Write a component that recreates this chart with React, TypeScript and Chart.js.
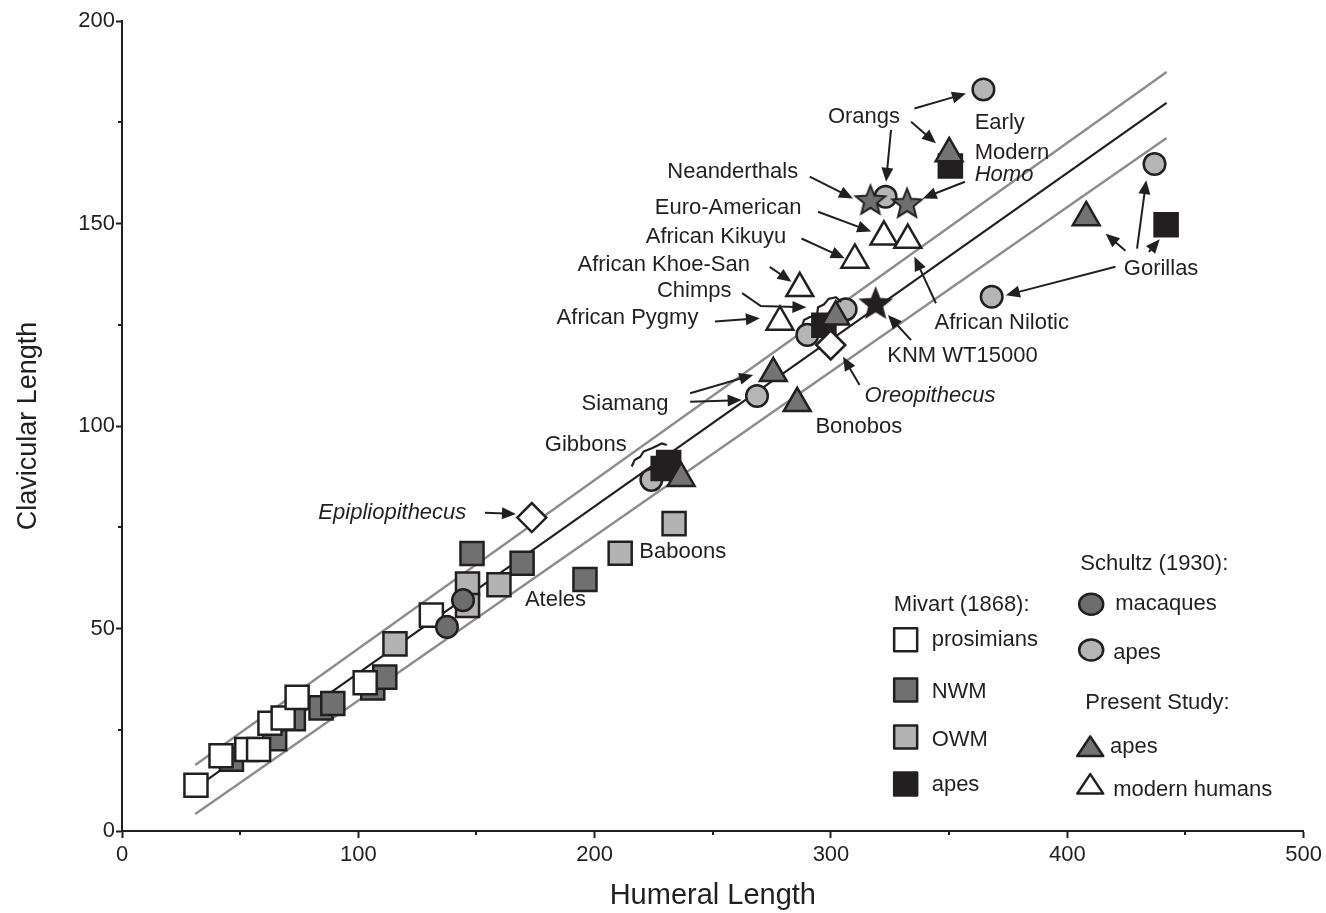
import React, { useEffect, useRef } from 'react';
import { Chart, registerables } from 'chart.js';

Chart.register(...registerables);

const INK = '#231f20';
const FONT = '"Liberation Sans", Arial, sans-serif';

// ---- Mivart (1868) ----
const prosimians = [[31.3, 11.3], [41.9, 18.6], [52.8, 20.1], [57.8, 20.1], [62.6, 26.6], [68.2, 27.9], [74.1, 33.0], [102.9, 36.6], [130.9, 53.3]];
const nwm = [[46.3, 17.7], [64.6, 22.8], [72.5, 27.7], [84.2, 30.4], [89.2, 31.5], [106.1, 35.3], [111.2, 38.0], [148.1, 68.5], [169.3, 66.1], [195.9, 62.1]];
const owm = [[115.5, 46.2], [146.2, 61.0], [146.2, 55.7], [159.5, 60.8], [210.8, 68.6], [233.6, 75.9]];
const mivartApes = [[229.0, 89.5], [231.3, 91.0], [297.0, 124.9], [350.5, 164.2], [441.8, 149.7]];
// ---- Schultz (1930) ----
const macaques = [[137.5, 50.4], [144.3, 57.0]];
const schultzApes = [[224.0, 86.7], [268.7, 107.4], [290.0, 122.5], [306.2, 128.8], [323.1, 156.6], [364.5, 183.1], [436.9, 164.7], [368.0, 131.9]];
// ---- Present study ----
const presentApes = [[236.6, 87.1], [275.6, 113.0], [285.7, 105.6], [302.0, 127.0], [350.0, 167.3], [408.0, 151.5]];
const modernHumans = [[278.4, 125.7], [286.8, 134.0], [310.1, 141.0], [322.4, 146.7], [332.5, 145.9]];
// ---- Fossils ----
const homoStars = [[316.7, 155.8], [332.2, 155.0]];
const knmStar = [[318.9, 130.3]];
const fossilDiamonds = [[173.4, 77.4], [299.9, 120.0]];
// ---- Regression line and bounds ----
const fitLine = [[31, 10.6], [442, 179.8]];
const upperLine = [[31, 16.3], [442, 187.4]];
const lowerLine = [[31, 4.2], [442, 171.1]];

const xTicksMinor = [50, 150, 250, 350, 450];
const yTicksMinor = [25, 75, 125, 175];

const annotationLabels = [
  { text: 'Orangs', x: 298.7, y: 176.4, align: 'left' },
  { text: 'Early', x: 360.8, y: 174.8, align: 'left' },
  { text: 'Modern', x: 360.8, y: 167.4, align: 'left' },
  { text: 'Homo', x: 360.8, y: 162.0, align: 'left', italic: true },
  { text: 'Neanderthals', x: 286.1, y: 162.8, align: 'right' },
  { text: 'Euro-American', x: 287.5, y: 153.8, align: 'right' },
  { text: 'African Kikuyu', x: 281.1, y: 146.6, align: 'right' },
  { text: 'African Khoe-San', x: 265.7, y: 139.8, align: 'right' },
  { text: 'Chimps', x: 257.9, y: 133.4, align: 'right' },
  { text: 'African Pygmy', x: 243.9, y: 126.6, align: 'right' },
  { text: 'African Nilotic', x: 343.8, y: 125.4, align: 'left' },
  { text: 'KNM WT15000', x: 323.8, y: 117.4, align: 'left' },
  { text: 'Oreopithecus', x: 314.2, y: 107.4, align: 'left', italic: true },
  { text: 'Siamang', x: 231.2, y: 105.4, align: 'right' },
  { text: 'Bonobos', x: 293.4, y: 99.8, align: 'left' },
  { text: 'Gibbons', x: 213.6, y: 95.3, align: 'right' },
  { text: 'Epipliopithecus', x: 145.7, y: 78.6, align: 'right', italic: true },
  { text: 'Baboons', x: 218.9, y: 69.0, align: 'left' },
  { text: 'Ateles', x: 170.5, y: 57.0, align: 'left' },
  { text: 'Gorillas', x: 423.9, y: 138.9, align: 'left' },
];

const annotationArrows = [
  [[335.3, 178.4], [357.1, 182.1]],
  [[325.4, 173.1], [323.3, 160.3]],
  [[333.9, 175.1], [344.4, 169.8]],
  [[291.0, 161.6], [309.3, 156.2]],
  [[356.7, 160.3], [338.8, 156.2]],
  [[294.5, 152.9], [317.0, 148.0]],
  [[287.5, 146.3], [305.8, 141.4]],
  [[274.1, 139.3], [283.3, 135.6]],
  [[262.4, 132.8], [270.3, 129.6], [289.6, 129.3]],
  [[250.9, 125.8], [269.9, 126.6]],
  [[344.4, 130.3], [335.3, 141.8]],
  [[333.9, 121.2], [324.1, 127.4]],
  [[312.1, 110.1], [305.1, 117.1]],
  [[240.4, 108.1], [267.1, 112.6]],
  [[240.4, 106.0], [262.2, 106.4]],
  [[153.6, 78.6], [166.7, 78.3]],
  [[424.6, 143.3], [416.2, 147.5]],
  [[429.5, 143.8], [433.4, 160.7]],
  [[434.5, 143.0], [439.1, 146.1]],
  [[420.4, 139.3], [374.0, 132.3]],
];

const annotationBraces = [
  [[287.8, 124.6], [288.6, 126.2], [291.1, 126.9], [294.1, 127.4], [294.5, 129.3], [297.0, 130.0], [299.0, 131.4], [302.1, 131.8], [304.3, 130.6]],
  [[215.7, 90.0], [216.9, 91.6], [219.3, 92.4], [220.7, 93.7], [224.2, 94.5], [228.4, 95.7], [230.5, 95.3]],
];

const legendHeaders = [
  { text: 'Mivart (1868):', x: 326.6, y: 55.8 },
  { text: 'Schultz (1930):', x: 405.5, y: 65.9 },
  { text: 'Present Study:', x: 407.6, y: 31.6 },
];
const legendItems = [
  { shape: 'square', fill: '#ffffff', mx: 331.6, my: 47.2, text: 'prosimians', tx: 342.6, ty: 47.2 },
  { shape: 'square', fill: '#707070', mx: 331.6, my: 34.8, text: 'NWM', tx: 342.6, ty: 34.4 },
  { shape: 'square', fill: '#b3b3b3', mx: 331.6, my: 23.2, text: 'OWM', tx: 342.6, ty: 22.5 },
  { shape: 'square', fill: INK, mx: 331.6, my: 11.6, text: 'apes', tx: 342.6, ty: 11.4 },
  { shape: 'circle', fill: '#6d6d6d', mx: 410.1, my: 56.0, text: 'macaques', tx: 420.3, ty: 56.0 },
  { shape: 'circle', fill: '#b5b5b5', mx: 410.1, my: 44.7, text: 'apes', tx: 419.4, ty: 43.9 },
  { shape: 'triangle', fill: '#737373', mx: 409.7, my: 20.2, text: 'apes', tx: 418.1, ty: 20.7 },
  { shape: 'triangle', fill: '#ffffff', mx: 409.7, my: 10.9, text: 'modern humans', tx: 419.4, ty: 10.1 },
];

const pts = (arr: number[][]) => arr.map(([x, y]) => ({ x, y }));

function makeStar(fill: string) {
  const c = document.createElement('canvas');
  c.width = 36;
  c.height = 36;
  const g = c.getContext('2d')!;
  const cx = 18, cy = 19, R = 15.5, r = 6.8;
  g.beginPath();
  for (let i = 0; i < 10; i++) {
    const a = -Math.PI / 2 + (i * Math.PI) / 5;
    const rr = i % 2 ? r : R;
    const X = cx + rr * Math.cos(a), Y = cy + rr * Math.sin(a);
    if (i) g.lineTo(X, Y); else g.moveTo(X, Y);
  }
  g.closePath();
  g.fillStyle = fill;
  g.fill();
  g.lineWidth = 2;
  g.lineJoin = 'miter';
  g.strokeStyle = INK;
  g.stroke();
  return c;
}

function drawShape(ctx: CanvasRenderingContext2D, shape: string, x: number, y: number, fill: string) {
  ctx.beginPath();
  if (shape === 'square') {
    ctx.rect(x - 11.5, y - 11.5, 23, 23);
  } else if (shape === 'circle') {
    ctx.ellipse(x, y, 12, 10.5, 0, 0, Math.PI * 2);
  } else {
    const r = 15;
    ctx.moveTo(x, y - r * 0.85);
    ctx.lineTo(x + r * Math.sin((2 * Math.PI) / 3), y + r * 0.45);
    ctx.lineTo(x - r * Math.sin((2 * Math.PI) / 3), y + r * 0.45);
    ctx.closePath();
  }
  ctx.fillStyle = fill;
  ctx.fill();
  ctx.lineWidth = 2.5;
  ctx.strokeStyle = INK;
  ctx.stroke();
}

const annotationPlugin = {
  id: 'annotations',
  afterDraw(chart: any) {
    const { ctx, scales, chartArea } = chart;
    const xs = scales.x, ys = scales.y;
    const px = (v: number) => xs.getPixelForValue(v);
    const py = (v: number) => ys.getPixelForValue(v);
    ctx.save();
    // minor ticks
    ctx.strokeStyle = INK;
    ctx.lineWidth = 2;
    ctx.beginPath();
    for (const v of yTicksMinor) {
      const Y = Math.round(py(v));
      ctx.moveTo(chartArea.left - 4, Y);
      ctx.lineTo(chartArea.left, Y);
    }
    for (const v of xTicksMinor) {
      const X = Math.round(px(v));
      ctx.moveTo(X, chartArea.bottom);
      ctx.lineTo(X, chartArea.bottom + 4);
    }
    ctx.stroke();

    // arrows
    ctx.strokeStyle = INK;
    ctx.fillStyle = INK;
    ctx.lineWidth = 2;
    for (const a of annotationArrows) {
      const P = a.map(([vx, vy]) => [px(vx), py(vy)]);
      const [x1, y1] = P[P.length - 2];
      const [x2, y2] = P[P.length - 1];
      const ang = Math.atan2(y2 - y1, x2 - x1);
      const L = 14, W = 6;
      const cos = Math.cos(ang), sin = Math.sin(ang);
      ctx.beginPath();
      P.forEach(([X, Y], i) => {
        if (i === P.length - 1) ctx.lineTo(X - cos * L * 0.8, Y - sin * L * 0.8);
        else if (i === 0) ctx.moveTo(X, Y);
        else ctx.lineTo(X, Y);
      });
      ctx.stroke();
      ctx.beginPath();
      ctx.moveTo(x2, y2);
      ctx.lineTo(x2 - L * cos + W * sin, y2 - L * sin - W * cos);
      ctx.lineTo(x2 - L * cos - W * sin, y2 - L * sin + W * cos);
      ctx.closePath();
      ctx.fill();
    }
    // braces
    ctx.lineWidth = 2.2;
    ctx.lineJoin = 'round';
    for (const b of annotationBraces) {
      ctx.beginPath();
      b.forEach(([vx, vy], i) => (i ? ctx.lineTo(px(vx), py(vy)) : ctx.moveTo(px(vx), py(vy))));
      ctx.stroke();
    }

    // labels
    ctx.fillStyle = INK;
    ctx.textBaseline = 'middle';
    for (const l of annotationLabels) {
      ctx.font = `${l.italic ? 'italic ' : ''}22px ${FONT}`;
      ctx.textAlign = l.align as CanvasTextAlign;
      ctx.fillText(l.text, px(l.x), py(l.y));
    }

    // legend
    ctx.textAlign = 'left';
    ctx.font = `22px ${FONT}`;
    for (const h of legendHeaders) {
      ctx.fillStyle = INK;
      ctx.fillText(h.text, px(h.x), py(h.y));
    }
    for (const it of legendItems) {
      drawShape(ctx, it.shape, px(it.mx), py(it.my), it.fill);
      ctx.fillStyle = INK;
      ctx.fillText(it.text, px(it.tx), py(it.ty));
    }
    ctx.restore();
  },
};

export default function App() {
  const ref = useRef<HTMLCanvasElement>(null);
  useEffect(() => {
    if (!ref.current) return;
    Chart.defaults.font.family = FONT;
    Chart.defaults.color = INK;
    const starGray = makeStar('#6f6f6f');
    const starBlack = makeStar(INK);
    const marker = (label: string, data: number[][], style: any, radius: number, fill: string) => ({
      label,
      data: pts(data),
      pointStyle: style,
      pointRadius: radius,
      pointHoverRadius: radius,
      pointBackgroundColor: fill,
      pointBorderColor: INK,
      pointBorderWidth: 2.5,
      pointHoverBorderWidth: 2.5,
      backgroundColor: fill,
      borderColor: INK,
      showLine: false,
    });
    const line = (label: string, data: number[][], color: string, width: number) => ({
      label,
      data: pts(data),
      showLine: true,
      pointRadius: 0,
      pointHoverRadius: 0,
      borderColor: color,
      borderWidth: width,
      fill: false,
    });
    const chart = new Chart(ref.current, {
      type: 'scatter',
      data: {
        datasets: [
          marker('Fossil hominoids', fossilDiamonds, 'rectRot', 14.5, '#ffffff'),
          marker('KNM WT15000', knmStar, starBlack, 14, INK),
          marker('Neanderthals / Early Modern Homo', homoStars, starGray, 14, '#6f6f6f'),
          marker('Present Study: modern humans', modernHumans, 'triangle', 15.5, '#ffffff'),
          marker('Present Study: apes', presentApes, 'triangle', 15.5, '#737373'),
          marker('Mivart: apes', mivartApes, 'rect', 16.3, INK),
          marker('Schultz: apes', schultzApes, 'circle', 10.8, '#b5b5b5'),
          marker('Schultz: macaques', macaques, 'circle', 10.8, '#6d6d6d'),
          marker('Mivart: prosimians', prosimians, 'rect', 16.3, '#ffffff'),
          marker('Mivart: OWM', owm, 'rect', 16.3, '#b3b3b3'),
          marker('Mivart: NWM', nwm, 'rect', 16.3, '#707070'),
          line('Fit', fitLine, INK, 2.2),
          line('Upper', upperLine, '#8d8d8d', 2.5),
          line('Lower', lowerLine, '#8d8d8d', 2.5),
        ] as any,
      },
      options: {
        animation: false,
        responsive: false,
        devicePixelRatio: 1,
        events: [],
        layout: { padding: { top: 21, right: 19, left: 0, bottom: 0 } },
        plugins: { legend: { display: false }, tooltip: { enabled: false } },
        scales: {
          x: {
            type: 'linear',
            min: 0,
            max: 500,
            afterFit: (s: any) => { s.height = 82; },
            ticks: { stepSize: 100, padding: 4, font: { size: 22 }, color: INK },
            grid: { drawOnChartArea: false, drawTicks: true, tickLength: 7, tickColor: INK, tickWidth: 2, color: INK },
            border: { display: true, color: INK, width: 2 },
            title: { display: true, text: 'Humeral Length', font: { size: 29 }, color: INK, padding: { top: 0, bottom: 0 } },
          },
          y: {
            type: 'linear',
            min: 0,
            max: 200,
            afterFit: (s: any) => { s.width = 122; },
            ticks: { stepSize: 50, padding: 1, font: { size: 22 }, color: INK },
            grid: { drawOnChartArea: false, drawTicks: true, tickLength: 6, tickColor: INK, tickWidth: 2, color: INK },
            border: { display: true, color: INK, width: 2 },
            title: { display: true, text: 'Clavicular Length', font: { size: 27 }, color: INK, padding: { top: 12, bottom: 0 } },
          },
        },
      } as any,
      plugins: [annotationPlugin],
    });
    return () => chart.destroy();
  }, []);
  return (
    <div style={{ position: 'fixed', left: 0, top: 0, width: 1326, height: 913, background: '#ffffff' }}>
      <canvas ref={ref} width={1326} height={913} style={{ display: 'block' }} />
    </div>
  );
}
